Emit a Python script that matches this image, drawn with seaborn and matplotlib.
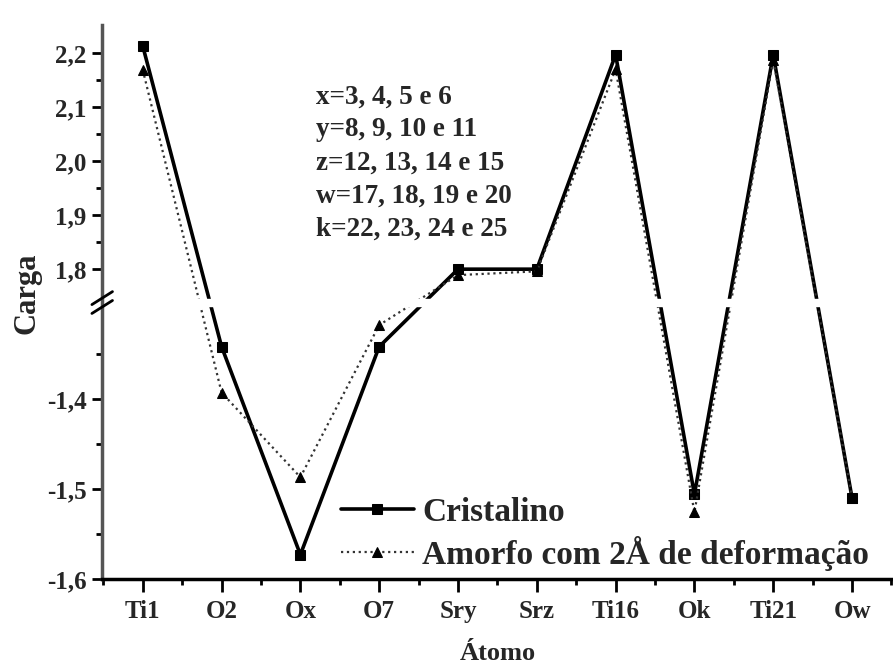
import numpy as np
import pandas as pd
import seaborn as sns
import matplotlib
matplotlib.use("Agg")
import matplotlib.pyplot as plt
from matplotlib.ticker import FixedLocator, FuncFormatter

# dados
atomos = ["Ti1", "O2", "Ox", "O7", "Sry", "Srz", "Ti16", "Ok", "Ti21", "Ow"]
cristalino = [2.213, -1.342, -1.573, -1.342, 1.800, 1.800, 2.197, -1.506, 2.197, -1.510]
amorfo = [2.169, -1.393, -1.487, -1.318, 1.789, 1.796, 2.170, -1.526, 2.188, -1.510]
grupos = ["x=3, 4, 5 e 6", "y=8, 9, 10 e 11", "z=12, 13, 14 e 15",
          "w=17, 18, 19 e 20", "k=22, 23, 24 e 25"]

sns.set_theme(style="white")
plt.rcParams['font.family'] = ['Liberation Serif', 'DejaVu Serif']
plt.rcParams['font.weight'] = 'bold'
plt.rcParams['axes.labelweight'] = 'bold'

# eixo y quebrado: escala por partes (-1,6 .. -1,29 | 1,745 .. 2,25)
def fwd(y):
    y = np.asarray(y, dtype=float)
    return np.where(y < -1.29, (y + 1.6) * 900,
                    np.where(y < 1.745, 279 + (y + 1.29) / 3.035,
                             280 + (y - 1.745) * 540))

def inv(f):
    f = np.asarray(f, dtype=float)
    return np.where(f < 279, f / 900 - 1.6,
                    np.where(f < 280, -1.29 + (f - 279) * 3.035,
                             1.745 + (f - 280) / 540))

df = pd.DataFrame({"Atomo": atomos, "Cristalino": cristalino, "Amorfo": amorfo})

fig = plt.figure(figsize=(8.93, 6.67), dpi=100)
ax = fig.add_axes([0.114, 0.132, 0.886, 0.8305])
ax.set_yscale('function', functions=(fwd, inv))

sns.lineplot(data=df, x="Atomo", y="Cristalino", ax=ax, sort=False,
             color="black", linewidth=2.6, marker="s", markersize=6.5,
             markeredgecolor="black", label="Cristalino", zorder=3)
sns.lineplot(data=df, x="Atomo", y="Amorfo", ax=ax, sort=False,
             color="#333333", linewidth=1.6, linestyle=":", marker="^",
             markersize=7.5, markerfacecolor="black", markeredgecolor="black",
             label="Amorfo com 2Å de deformação", zorder=3)

ax.set_xlim(-0.52, 9.52)
ax.set_ylim(-1.6, 2.252)

# faixa branca na quebra
ax.axhspan(-1.297, 1.745, color="white", zorder=3.5)

ax.yaxis.set_major_locator(FixedLocator([-1.6, -1.5, -1.4, 1.8, 1.9, 2.0, 2.1, 2.2]))
ax.yaxis.set_minor_locator(FixedLocator([-1.55, -1.45, -1.35, 1.85, 1.95, 2.05, 2.15]))
ax.yaxis.set_major_formatter(FuncFormatter(lambda v, p: f"{v:.1f}".replace(".", ",")))
ax.yaxis.set_minor_formatter(FuncFormatter(lambda v, p: ""))
ax.xaxis.set_minor_locator(FixedLocator(np.arange(-0.5, 10, 1.0)))

ax.tick_params(axis="both", which="major", direction="out", length=7, width=2,
               labelsize=18, left=True, bottom=True, color="black")
ax.tick_params(axis="both", which="minor", direction="out", length=4, width=2,
               left=True, bottom=True, color="black")
ax.tick_params(axis="x", which="major", pad=6, length=9)
ax.tick_params(axis="y", which="major", pad=4)

for s in ["top", "right"]:
    ax.spines[s].set_visible(False)
ax.spines["left"].set_color("#555555")
ax.spines["left"].set_linewidth(2.5)
ax.spines["left"].set_zorder(4)
ax.spines["bottom"].set_color("black")
ax.spines["bottom"].set_linewidth(2.5)
ax.spines["bottom"].set_zorder(4)

# marcas da quebra
for yb in (0.491, 0.507):
    ax.plot([-0.0125, 0.0135], [yb - 0.0117, yb + 0.0117], transform=ax.transAxes,
            color="black", lw=2, clip_on=False, zorder=5)

ax.set_xlabel("Átomo", fontsize=19, labelpad=14)
ax.set_ylabel("Carga", fontsize=22)
ax.yaxis.set_label_coords(-0.076, 0.515)

ax.text(0.271, 0.893, "\n".join(grupos), transform=ax.transAxes, fontsize=19.5,
        va="top", ha="left", linespacing=1.42)

leg = ax.legend(loc="lower left", bbox_to_anchor=(0.285, -0.01), frameon=False,
                fontsize=24, handlelength=2.2, handletextpad=0.25, labelspacing=0.25,
                borderaxespad=0)
leg.set_zorder(6)

fig.savefig("out.png", dpi=100, facecolor="white")
